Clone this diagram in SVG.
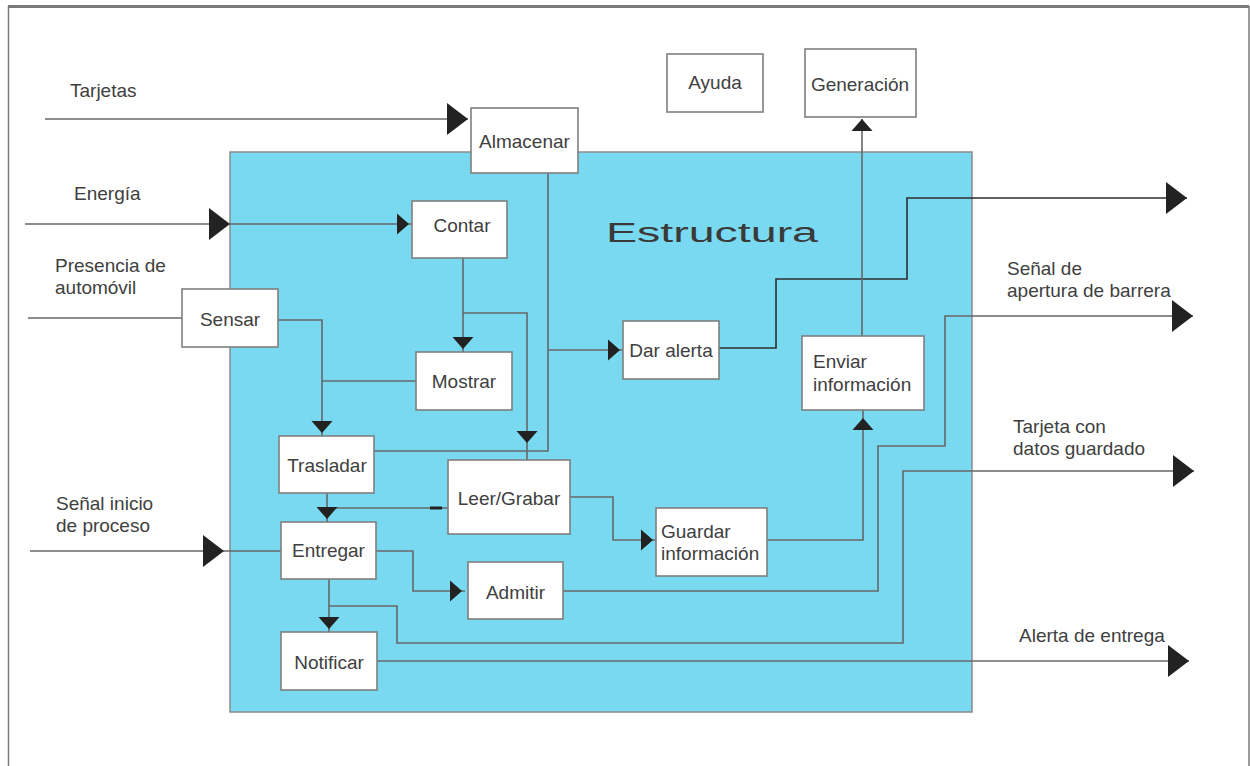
<svg xmlns="http://www.w3.org/2000/svg" width="1250" height="766" viewBox="0 0 1250 766">
<defs>
<style>
.frame{stroke:#7a7a7a;fill:none}
.main{fill:#79d9f1;stroke:#8a8a8a;stroke-width:1.5}
.box{fill:#ffffff;stroke:#7f7f7f;stroke-width:1.6}
.lbl{font-family:"Liberation Sans",Arial,sans-serif;font-size:19px;fill:#404040}
.c{text-anchor:middle}
.ln{fill:none;stroke:#676767;stroke-width:1.6}
.dk{fill:none;stroke:#2e2e2e;stroke-width:1.6}
.sm{marker-end:url(#small)}
.sm2{marker-end:url(#small2)}
.bg{marker-end:url(#big)}
</style>
<marker id="big" markerUnits="userSpaceOnUse" markerWidth="22" markerHeight="33" refX="21" refY="16" orient="auto" overflow="visible">
<path d="M0,0 L21,16 L0,32 z" fill="#222"/>
</marker>
<marker id="small" markerUnits="userSpaceOnUse" markerWidth="16" markerHeight="22" refX="15" refY="10.5" orient="auto" overflow="visible">
<path d="M0,0 L12,10.5 L0,21 z" fill="#222"/>
</marker>
<marker id="small2" markerUnits="userSpaceOnUse" markerWidth="16" markerHeight="22" refX="12" refY="10.5" orient="auto" overflow="visible">
<path d="M0,0 L12,10.5 L0,21 z" fill="#222"/>
</marker>
</defs>
<rect x="0" y="0" width="1250" height="766" fill="#ffffff"/>
<line class="frame" x1="8" y1="6.5" x2="1249" y2="6.5" stroke-width="3"/>
<line class="frame" x1="8.5" y1="6" x2="8.5" y2="766" stroke-width="1.5"/>
<line class="frame" x1="1249" y1="6" x2="1249" y2="766" stroke-width="1.5"/>

<g id="estructura">
<rect class="main" x="230" y="152" width="742" height="560"/>
<text class="lbl" x="606" y="242" font-size="27" textLength="212" lengthAdjust="spacingAndGlyphs" style="font-size:27px;fill:#3a3a3a">Estructura</text>
</g>

<g id="connectors">
<path class="ln bg" d="M45,119 H468"/>
<path class="ln bg" d="M25,224 H230"/>
<path class="ln sm" d="M230,224 H412"/>
<path class="ln" d="M28,318 H182"/>
<path class="ln sm" d="M278,320 H322 V436"/>
<path class="ln" d="M416,381 H322"/>
<path class="ln sm" d="M463,258 V352"/>
<path class="ln sm2" d="M463,313 H527 V443"/>
<path class="ln" d="M527,443 V460"/>
<path class="ln" d="M548,173 V451 H374"/>
<path class="ln sm" d="M548,350 H623"/>
<path class="dk bg" d="M719,348 H776 V279 H907 V198 H1187"/>
<path class="ln sm2" d="M862,336 V119"/>
<path class="ln sm2" d="M767,540 H863 V418"/>
<path class="ln" d="M863,418 V410"/>
<path class="ln sm" d="M570,497 H613 V540 H656"/>
<path class="ln" d="M448,508 H327"/>
<rect x="430" y="506.5" width="12" height="3" fill="#222"/>
<path class="ln sm" d="M327,493 V522"/>
<path class="ln bg" d="M30,551 H224"/>
<path class="ln" d="M224,551 H281"/>
<path class="ln sm" d="M376,551 H413 V591 H465"/>
<path class="ln sm" d="M329,579 V632"/>
<path class="ln bg" d="M329,606 H397 V643 H903 V471 H1194"/>
<path class="ln bg" d="M563,591 H878 V446 H945 V316 H1193"/>
<path class="ln bg" d="M377,661 H1189"/>
</g>

<g id="almacenar"><rect class="box" x="471" y="108" width="107" height="65"/><text class="lbl c" x="524.5" y="148">Almacenar</text></g>
<g id="ayuda"><rect class="box" x="667" y="54" width="96" height="58"/><text class="lbl c" x="715" y="89">Ayuda</text></g>
<g id="generacion"><rect class="box" x="805" y="49" width="111" height="68"/><text class="lbl c" x="860" y="91">Generación</text></g>
<g id="contar"><rect class="box" x="412" y="201" width="95" height="57"/><text class="lbl c" x="462" y="232">Contar</text></g>
<g id="sensar"><rect class="box" x="182" y="289" width="96" height="58"/><text class="lbl c" x="230" y="325.5">Sensar</text></g>
<g id="mostrar"><rect class="box" x="416" y="352" width="96" height="58"/><text class="lbl c" x="464" y="388">Mostrar</text></g>
<g id="dar-alerta"><rect class="box" x="623" y="321" width="96" height="58"/><text class="lbl c" x="671" y="357">Dar alerta</text></g>
<g id="enviar-informacion"><rect class="box" x="802" y="336" width="122" height="74"/><text class="lbl" x="813" y="368">Enviar</text><text class="lbl" x="813" y="390.5">información</text></g>
<g id="trasladar"><rect class="box" x="279" y="436" width="95" height="57"/><text class="lbl c" x="327" y="472">Trasladar</text></g>
<g id="leer-grabar"><rect class="box" x="448" y="460" width="122" height="74"/><text class="lbl c" x="509" y="505">Leer/Grabar</text></g>
<g id="guardar-informacion"><rect class="box" x="656" y="508" width="111" height="68"/><text class="lbl" x="661" y="538">Guardar</text><text class="lbl" x="661" y="560">información</text></g>
<g id="entregar"><rect class="box" x="281" y="522" width="95" height="57"/><text class="lbl c" x="328.5" y="556.5">Entregar</text></g>
<g id="admitir"><rect class="box" x="468" y="562" width="95" height="57"/><text class="lbl c" x="515.5" y="599">Admitir</text></g>
<g id="notificar"><rect class="box" x="281" y="632" width="96" height="58"/><text class="lbl c" x="329" y="669">Notificar</text></g>

<g id="labels">
<text class="lbl" x="70" y="97">Tarjetas</text>
<text class="lbl" x="74" y="200">Energía</text>
<text class="lbl" x="55" y="272">Presencia de</text>
<text class="lbl" x="55" y="293.5">automóvil</text>
<text class="lbl" x="56" y="510">Señal inicio</text>
<text class="lbl" x="56" y="531.5">de proceso</text>
<text class="lbl" x="1007" y="275">Señal de</text>
<text class="lbl" x="1007" y="296.5">apertura de barrera</text>
<text class="lbl" x="1013" y="433">Tarjeta con</text>
<text class="lbl" x="1013" y="454.5">datos guardado</text>
<text class="lbl" x="1019" y="641.5">Alerta de entrega</text>
</g>
</svg>
